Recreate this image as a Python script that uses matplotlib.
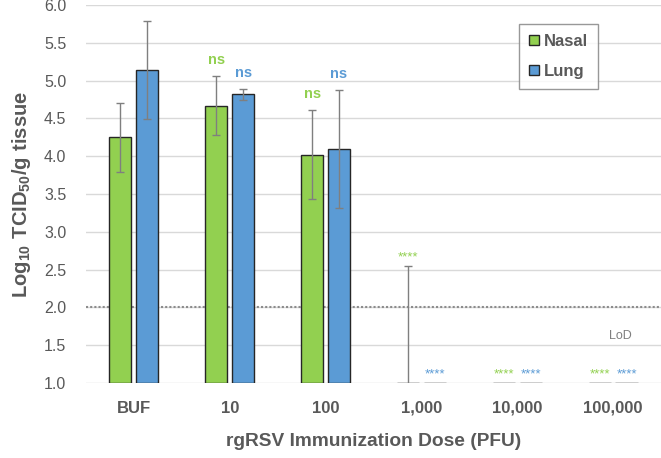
import matplotlib.pyplot as plt
import numpy as np

plt.rcParams['font.family'] = ['Liberation Sans', 'DejaVu Sans']
plt.rcParams['mathtext.fontset'] = 'custom'
plt.rcParams['mathtext.bf'] = 'Liberation Sans:bold'
plt.rcParams['mathtext.rm'] = 'Liberation Sans'

# datos
doses = ['BUF', '10', '100', '1,000', '10,000', '100,000']
nasal = [4.25, 4.67, 4.02, 1.0, 1.0, 1.0]
lung = [5.14, 4.82, 4.10, 1.0, 1.0, 1.0]
nasal_err = [0.46, 0.39, 0.59, 1.55, 0.0, 0.0]
lung_err = [0.65, 0.07, 0.78, 0.0, 0.0, 0.0]
nasal_sig = ['', 'ns', 'ns', '****', '****', '****']
lung_sig = ['', 'ns', 'ns', '****', '****', '****']
lod = 2.0

green = '#92D050'
blue = '#5B9BD5'
grey_txt = '#595959'

fig = plt.figure(figsize=(6.61, 4.58), dpi=100)
ax = fig.add_axes([0.130, 0.164, 0.870, 0.825])

x = np.arange(len(doses))
w = 0.23
off = 0.14
base = 1.0

ax.bar(x - off, np.array(nasal) - base, w, bottom=base, color=green,
       edgecolor='#262626', linewidth=1.0, zorder=3, label='Nasal')
ax.bar(x + off, np.array(lung) - base, w, bottom=base, color=blue,
       edgecolor='#262626', linewidth=1.0, zorder=3, label='Lung')

for xs, vals, errs in [(x - off, nasal, nasal_err), (x + off, lung, lung_err)]:
    for xi, v, e in zip(xs, vals, errs):
        if e > 0:
            ax.errorbar(xi, v, yerr=e, fmt='none', ecolor='#7F7F7F',
                        elinewidth=1.0, capsize=3, capthick=1.0, zorder=4)

# etiquetas de significancia
for xs, vals, errs, sigs, col in [(x - off, nasal, nasal_err, nasal_sig, green),
                                  (x + off, lung, lung_err, lung_sig, blue)]:
    for xi, v, e, s in zip(xs, vals, errs, sigs):
        if s == 'ns':
            ax.text(xi, v + e + 0.12, s, color=col, fontsize=10.5,
                    fontweight='bold', ha='center', va='bottom', zorder=5)
        elif s:
            ax.text(xi, v + e + 0.03, s, color=col, fontsize=9.5,
                    ha='center', va='bottom', zorder=5)

ax.axhline(lod, color='#8C8C8C', linestyle=(0, (1, 1)), linewidth=1.5, zorder=2)
ax.text(5.08, 1.62, 'LoD', color='#7F7F7F', fontsize=9, ha='center', va='center')

ax.set_ylim(1.0, 6.0)
ax.set_xlim(-0.5, 5.5)
ax.set_yticks(np.arange(1.0, 6.01, 0.5))
ax.set_yticklabels([f'{t:.1f}' for t in np.arange(1.0, 6.01, 0.5)])
ax.set_xticks(x)
ax.set_xticklabels(doses, fontweight='bold')
ax.tick_params(axis='both', length=0, labelcolor=grey_txt)
ax.tick_params(axis='x', pad=13, labelsize=12)
ax.tick_params(axis='y', pad=14, labelsize=11.5)
ax.grid(axis='y', color='#D9D9D9', linewidth=1.0, zorder=0)
ax.set_axisbelow(True)
for sp in ax.spines.values():
    sp.set_visible(False)

ax.set_ylabel(r'$\mathbf{Log_{10}\ TCID_{50}/g\ tissue}$', fontsize=14.5,
              color=grey_txt, labelpad=8)
ax.set_xlabel('rgRSV Immunization Dose (PFU)', fontsize=13.8, fontweight='bold',
              color=grey_txt, labelpad=12)

leg = ax.legend(loc='upper right', bbox_to_anchor=(0.905, 0.972), fontsize=12,
                frameon=True, fancybox=False, edgecolor='#7F7F7F',
                handlelength=0.6, handleheight=0.6, handletextpad=0.3,
                borderpad=0.6, labelspacing=0.9)
for t in leg.get_texts():
    t.set_color(grey_txt)
    t.set_fontweight('bold')

plt.savefig('out.png', dpi=100)
